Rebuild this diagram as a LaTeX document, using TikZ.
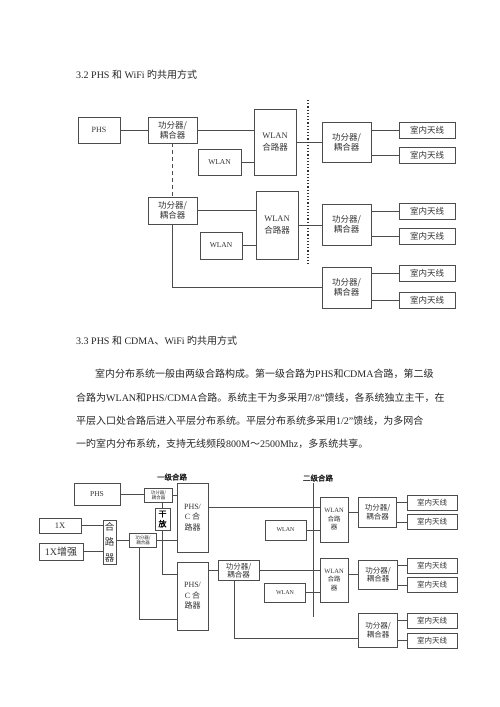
\documentclass[tikz,border=0pt]{standalone}
\usepackage{fontspec}
\setmainfont{Liberation Serif}
\newfontfamily\cjk[AutoFakeBold=2]{Noto Sans CJK SC}
\begin{document}
\begin{tikzpicture}[x=1pt,y=1pt,yscale=-1,xscale=1,
	box/.style={draw=black!70,line width=0.6pt,inner sep=0pt,align=center,text=black!80},
	wire/.style={draw=black!70,line width=0.6pt},
	txt/.style={anchor=base west,inner sep=0pt,text=black!85},
	cpl/.style={box,minimum width=49,minimum height=26,font=\cjk\fontsize{8.5}{10}\selectfont},
	hub/.style={box,minimum width=42,font=\cjk\fontsize{8.5}{12}\selectfont},
	ant/.style={box,minimum width=56,minimum height=16,font=\cjk\fontsize{8.5}{10}\selectfont},
	wl/.style={box,minimum width=42,minimum height=26,font=\fontsize{7.5}{9}\selectfont},
	cplb/.style={box,minimum width=38.5,minimum height=30,font=\cjk\fontsize{7.5}{8.5}\selectfont},
	antb/.style={box,minimum width=50,minimum height=15,font=\cjk\fontsize{7.5}{9}\selectfont},
	tiny/.style={box,minimum width=27.5,minimum height=14,font=\cjk\fontsize{4.5}{5}\selectfont},
	pc/.style={box,minimum width=31,font=\cjk\fontsize{8}{10.5}\selectfont},
	wc/.style={box,minimum width=28,font=\cjk\fontsize{6.5}{8.5}\selectfont},
	wlb/.style={box,minimum width=41,minimum height=20,font=\fontsize{6}{7}\selectfont},
	lvl/.style={inner sep=0pt,text=black!85,font=\cjk\bfseries\fontsize{7.5}{9}\selectfont}]
	\fill[white] (0,0) rectangle (500,707);
	\useasboundingbox (0,0) rectangle (500,707);
	% page text
	\node[txt,font=\fontsize{10}{12}\selectfont] (h32) at (76,78) {3.2 PHS {\cjk 和} WiFi {\cjk 旳共用方式}};
	\node[txt,font=\fontsize{10}{12}\selectfont] (h33) at (76,344) {3.3 PHS {\cjk 和} CDMA{\cjk 、}WiFi {\cjk 旳共用方式}};
	\node[txt,font=\cjk\fontsize{10}{12}\selectfont] (ln1) at (95,377) {室内分布系统一般由两级合路构成。第一级合路为{\rmfamily PHS}和{\rmfamily CDMA}合路，第二级};
	\node[txt,font=\cjk\fontsize{10}{12}\selectfont] (ln2) at (76,401) {合路为{\rmfamily WLAN}和{\rmfamily PHS/CDMA}合路。系统主干为多采用{\rmfamily 7/8”}馈线，各系统独立主干，在};
	\node[txt,font=\cjk\fontsize{10}{12}\selectfont] (ln3) at (76,424) {平层入口处合路后进入平层分布系统。平层分布系统多采用{\rmfamily 1/2”}馈线，为多网合};
	\node[txt,font=\cjk\fontsize{10}{12}\selectfont] (ln4) at (76,447) {一旳室内分布系统，支持无线频段{\rmfamily 800M}～{\rmfamily 2500Mhz}，多系统共享。};
	% first diagram
	\node[box,minimum width=42,minimum height=26,font=\fontsize{8}{9}\selectfont] (phsA) at (99,130) {PHS};
	\node[cpl] (cplA1) at (172.5,130) {功分器/\\耦合器};
	\node[cpl,minimum height=27] (cplA2) at (172.5,210.5) {功分器/\\耦合器};
	\node[hub,minimum height=66] (wcA1) at (275,142) {{\rmfamily WLAN}\\合路器};
	\node[hub,minimum height=68] (wcA2) at (277,225) {{\rmfamily WLAN}\\合路器};
	\node[wl,minimum width=43] (wlA1) at (219.5,162) {WLAN};
	\node[wl,minimum height=27] (wlA2) at (221,245.5) {WLAN};
	\node[cpl,minimum height=40] (cplB1) at (346.5,142) {功分器/\\耦合器};
	\node[cpl,minimum height=41] (cplB2) at (346.5,224.5) {功分器/\\耦合器};
	\node[cpl,minimum height=41] (cplB3) at (346.5,287.5) {功分器/\\耦合器};
	\node[ant] (antA1) at (427,130) {室内天线};
	\node[ant] (antA2) at (427,155) {室内天线};
	\node[ant] (antA3) at (427,211.5) {室内天线};
	\node[ant] (antA4) at (427,236.5) {室内天线};
	\node[ant] (antA5) at (427,273.5) {室内天线};
	\node[ant] (antA6) at (427,300.5) {室内天线};
	\coordinate (dtop) at (308,100);
	\coordinate (dbot) at (308,265);
	\draw[wire] (phsA) -- (cplA1);
	\draw[wire] (cplA1.east) -- (cplA1.east -| wcA1.west);
	\draw[wire] (wlA1.east) -- (wlA1.east -| wcA1.west);
	\draw[wire] (cplA2.east) -- (cplA2.east -| wcA2.west);
	\draw[wire] (wlA2.east) -- (wlA2.east -| wcA2.west);
	\draw[wire] (wcA1.east) -- (wcA1.east -| cplB1.west);
	\draw[wire] (wcA2.east) -- (wcA2.east -| cplB2.west);
	\draw[wire,dash pattern=on 4pt off 3pt] (cplA1.south) -- (cplA2.north);
	\draw[wire] (cplA2.south) |- (cplB3.west);
	\draw[black!80,line width=1.2pt,dotted] (dtop) -- (dbot);
	\draw[wire] (antA1.west) -- (antA1.west -| cplB1.east);
	\draw[wire] (antA2.west) -- (antA2.west -| cplB1.east);
	\draw[wire] (antA3.west) -- (antA3.west -| cplB2.east);
	\draw[wire] (antA4.west) -- (antA4.west -| cplB2.east);
	\draw[wire] (antA5.west) -- (antA5.west -| cplB3.east);
	\draw[wire] (antA6.west) -- (antA6.west -| cplB3.east);
	% second diagram
	\node[lvl] (lv1) at (172,477) {一级合路};
	\node[lvl] (lv2) at (318,478) {二级合路};
	\node[box,minimum width=46,minimum height=22,font=\fontsize{7.5}{9}\selectfont] (phsB) at (97,494) {PHS};
	\node[tiny] (tinyA) at (158.5,495) {功分器/\\耦合器};
	\node[tiny] (tinyB) at (143,540) {功分器/\\耦合器};
	\node[pc,minimum height=69] (pcA) at (192.5,517.5) {{\rmfamily PHS/}\\{\rmfamily C} 合\\路器};
	\node[pc,minimum height=68] (pcB) at (192.5,596) {{\rmfamily PHS/}\\{\rmfamily C} 合\\路器};
	\node[box,minimum width=15,minimum height=22,font=\cjk\bfseries\fontsize{8}{10}\selectfont,text=black] (gf) at (162.5,519) {干\\放};
	\node[box,minimum width=42,minimum height=15,font=\fontsize{8.5}{10}\selectfont] (x1) at (60,525.5) {1X};
	\node[box,minimum width=44,minimum height=17,font=\cjk\fontsize{10}{12}\selectfont] (x1e) at (61,551.5) {{\rmfamily 1X}增强};
	\node[box,minimum width=13,minimum height=44,font=\cjk\fontsize{9.5}{15.5}\selectfont] (hlq) at (109.5,542) {合\\路\\器};
	\node[cplb,minimum width=41,minimum height=20] (cplM) at (238.5,570.5) {功分器/\\耦合器};
	\node[wc,minimum height=45] (wcB1) at (334,519.5) {{\rmfamily WLAN}\\合路\\器};
	\node[wc,minimum height=44] (wcB2) at (334,580) {{\rmfamily WLAN}\\合路\\器};
	\node[wlb] (wlB1) at (285.5,530) {WLAN};
	\node[wlb,minimum height=19] (wlB2) at (285,592.5) {WLAN};
	\node[cplb] (cplC1) at (377.5,512) {功分器/\\耦合器};
	\node[cplb,minimum height=29] (cplC2) at (378,574.5) {功分器/\\耦合器};
	\node[cplb,minimum height=34] (cplC3) at (378,630) {功分器/\\耦合器};
	\node[antb] (antB1) at (432,502.5) {室内天线};
	\node[antb] (antB2) at (432,522) {室内天线};
	\node[antb] (antB3) at (432,565.5) {室内天线};
	\node[antb] (antB4) at (432,585) {室内天线};
	\node[antb] (antB5) at (432,620.5) {室内天线};
	\node[antb] (antB6) at (432,640.5) {室内天线};
	\coordinate (bus1) at (313,483);
	\coordinate (bus2) at (313,617);
	\coordinate (r507) at (0,507);
	\coordinate (r574) at (0,574);
	\coordinate (r619) at (0,619);
	\coordinate (r638) at (0,638);
	\draw[wire] (bus1) -- (bus2);
	\draw[wire] (phsB.east) -- (phsB.east -| tinyA.west);
	\draw[wire] (tinyA.east) -- (tinyA.east -| pcA.west);
	\draw[wire] (tinyA.south -| gf.north) -- (gf.north);
	\draw[wire] (gf.south) |- (pcB.west |- r574);
	\draw[wire] (x1.east) -- (x1.east -| hlq.west);
	\draw[wire] (x1e.east) -- (x1e.east -| hlq.west);
	\draw[wire] (tinyB.west -| hlq.east) -- (tinyB.west);
	\draw[wire] (tinyB.east) -- (tinyB.east -| pcA.west);
	\draw[wire] ([xshift=-4pt]tinyB.south) |- (pcB.west |- r619);
	\draw[wire] (pcA.east |- r507) -- (wcB1.west |- r507);
	\draw[wire] (pcB.east |- cplM.west) -- (cplM.west);
	\draw[wire] (cplM.east) -- (cplM.east -| wcB2.west);
	\draw[wire] ([xshift=-4.5pt]cplM.south) |- (cplC3.west |- r638);
	\draw[wire] (wlB1.east) -- (wlB1.east -| wcB1.west);
	\draw[wire] (wlB2.east) -- (wlB2.east -| wcB2.west);
	\draw[wire] (wcB1.east |- cplC1.west) -- (cplC1.west);
	\draw[wire] (wcB2.east |- cplC2.west) -- (cplC2.west);
	\draw[wire] (antB1.west) -- (antB1.west -| cplC1.east);
	\draw[wire] (antB2.west) -- (antB2.west -| cplC1.east);
	\draw[wire] (antB3.west) -- (antB3.west -| cplC2.east);
	\draw[wire] (antB4.west) -- (antB4.west -| cplC2.east);
	\draw[wire] (antB5.west) -- (antB5.west -| cplC3.east);
	\draw[wire] (antB6.west) -- (antB6.west -| cplC3.east);
\end{tikzpicture}
\end{document}
